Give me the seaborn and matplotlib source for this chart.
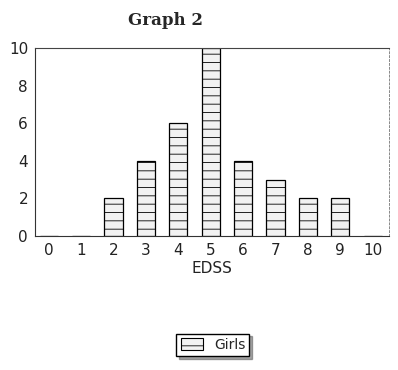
import seaborn as sns
import matplotlib.pyplot as plt
import pandas as pd
from matplotlib.patches import Patch

sns.set_style('white')
plt.rcParams['hatch.linewidth'] = 0.6

edss = [0, 1, 2, 3, 4, 5, 6, 7, 8, 9, 10]
girls = [0, 0, 2, 4, 6, 10, 4, 3, 2, 2, 0]
yticks = [0, 2, 4, 6, 8, 10]

df = pd.DataFrame({'EDSS': edss, 'Girls': girls})

f = plt.figure(figsize=(3.98, 3.70), dpi=100)
ax = f.add_axes([0.088, 0.362, 0.889, 0.508])
sns.barplot(ax=ax, data=df, x='EDSS', y='Girls', order=edss, width=0.56,
            color='#f2f2f2', edgecolor='black', linewidth=0.9, hatch='--')
ax.set_xlim(-0.42, 10.5)
ax.set_ylim(0, 10)
ax.set_yticks(yticks)
ax.set_yticklabels([str(v) for v in yticks], fontsize=11, color='#222222')
ax.set_xticks(range(len(edss)))
ax.set_xticklabels([str(v) for v in edss], fontsize=11, color='#222222')
ax.tick_params(axis='both', length=0, pad=5)
ax.set_xlabel('EDSS', fontsize=11, labelpad=2, color='#222222')
ax.set_ylabel('')
for side in ['left', 'bottom']:
    ax.spines[side].set_color('#333333')
    ax.spines[side].set_linewidth(0.8)
ax.spines['top'].set_color('#444444')
ax.spines['top'].set_linestyle((0, (6, 1)))
ax.spines['top'].set_linewidth(0.8)
ax.spines['right'].set_color('#888888')
ax.spines['right'].set_linestyle((0, (2, 2)))
ax.spines['right'].set_linewidth(0.7)

f.text(0.415, 0.945, 'Graph 2', ha='center', va='center', fontsize=12,
       fontweight='bold', family='DejaVu Serif')

handle = Patch(facecolor='#f2f2f2', edgecolor='black', hatch='--', linewidth=0.8)
f.legend([handle], ['Girls'], loc='center', bbox_to_anchor=(0.535, 0.068),
         fancybox=False, shadow=True, edgecolor='black', fontsize=10,
         handlelength=1.6, handleheight=1.0, borderpad=0.3, framealpha=1)

f.savefig('out.png', dpi=100)
